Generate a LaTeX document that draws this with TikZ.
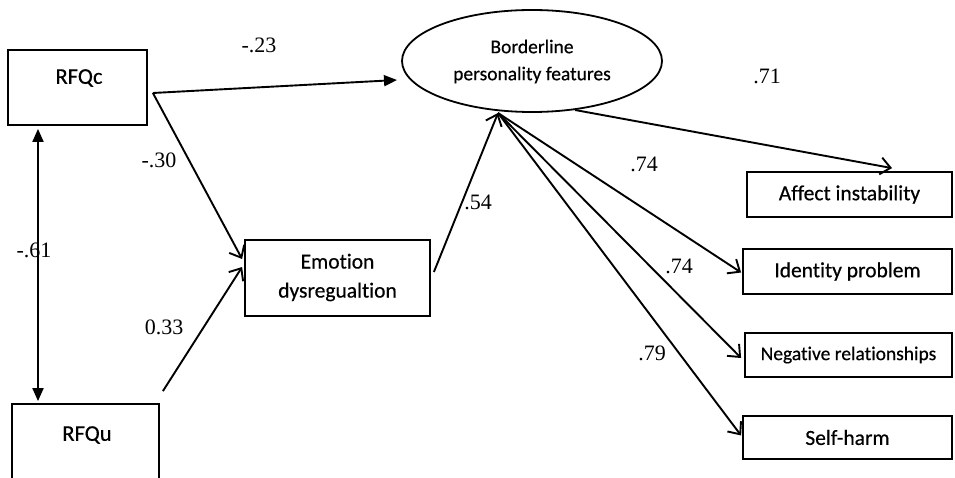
\documentclass[tikz,border=0pt]{standalone}
\usepackage{fontspec}
\setmainfont{Carlito}[Ligatures=NoCommon,FakeBold=0.5]
\newfontfamily\labfont{Liberation Serif}
\usetikzlibrary{arrows.meta,shapes.geometric}
\begin{document}
\begin{tikzpicture}[x=1pt,y=-1pt,
  box/.style={draw,line width=1.8pt,rectangle,inner sep=0pt},
  btext/.style={font=\fontsize{21.5}{29}\selectfont,align=center,inner sep=0pt},
  stext/.style={font=\fontsize{19.5}{27}\selectfont,align=center,inner sep=0pt},
  coef/.style={font=\labfont\fontsize{22}{24}\selectfont,inner sep=0pt},
  arr/.style={line width=1.9pt,-{Straight Barb[length=10pt,width=17pt]}},
  farr/.style={line width=1.9pt,-{Triangle[length=13pt,width=11pt]}},
  darr/.style={line width=1.9pt,{Triangle[length=13pt,width=11pt]}-{Triangle[length=13pt,width=11pt]}}
]
\useasboundingbox (0,0) rectangle (955,478);
% nodes
\node[box,minimum width=139pt,minimum height=75pt] (rfqc) at (77.5,87.5) {};
\node[btext,font=\fontsize{22.5}{29}\selectfont] (rfqct) at (79,78) {RFQc};
\node[box,minimum width=147pt,minimum height=90pt] (rfqu) at (85.5,449) {};
\node[btext,font=\fontsize{22.5}{29}\selectfont] (rfqut) at (87,435) {RFQu};
\node[box,minimum width=185pt,minimum height=76pt] (emo) at (337.5,278) {};
\node[btext] (emot) at (337.5,277.5) {Emotion\\dysregualtion};
\node[draw,ellipse,line width=1.8pt,minimum width=260pt,minimum height=102pt,inner sep=0pt] (bpf) at (532,61) {};
\node[stext] (bpft) at (532,61.5) {Borderline\\personality features};
\node[box,minimum width=205pt,minimum height=45pt] (aff) at (849.5,194.5) {};
\node[btext] (afft) at (aff.center) {Affect instability};
\node[box,minimum width=209pt,minimum height=45pt] (idp) at (847.5,271.5) {};
\node[btext] (idpt) at (idp.center) {Identity problem};
\node[box,minimum width=207pt,minimum height=44pt] (neg) at (848.5,355) {};
\node[stext] (negt) at (neg.center) {Negative relationships};
\node[box,minimum width=209pt,minimum height=43pt] (slf) at (847.5,437.5) {};
\node[btext] (slft) at (slf.center) {Self-harm};
% connectors
\draw[farr] ([shift={(5,5.5)}]rfqc.east) -- ([shift={(-135,19)}]bpf.center);
\draw[arr] ([shift={(5,5.5)}]rfqc.east) -- ([shift={(-2,-19)}]emo.west);
\draw[arr] ([shift={(3,-12)}]rfqu.north east) -- ([shift={(-2,-11)}]emo.west);
\draw[darr] ([shift={(-39.5,3)}]rfqc.south) -- ([shift={(-47.5,-2)}]rfqu.north);
\draw[arr] ([shift={(3,-6)}]emo.east) -- ([shift={(-34,52)}]bpf.center);
\draw[arr] ([shift={(43,49)}]bpf.center) -- ([shift={(42.5,-3)}]aff.north);
\draw[arr] ([shift={(-34,52)}]bpf.center) -- ([shift={(-1,1)}]idp.west);
\draw[arr] ([shift={(-34,52)}]bpf.center) -- ([shift={(-3,3)}]neg.west);
\draw[arr] ([shift={(-34,52)}]bpf.center) -- ([shift={(-1,-2)}]slf.west);
% coefficients
\node[coef] (c1) at (259,45) {-.23};
\node[coef] (c2) at (159,160) {-.30};
\node[coef] (c3) at (34,250) {-.61};
\node[coef] (c4) at (164,327) {0.33};
\node[coef] (c5) at (478,202) {.54};
\node[coef] (c6) at (767,76) {.71};
\node[coef] (c7) at (644,164) {.74};
\node[coef] (c8) at (679,266) {.74};
\node[coef] (c9) at (652,353) {.79};
\end{tikzpicture}
\end{document}
